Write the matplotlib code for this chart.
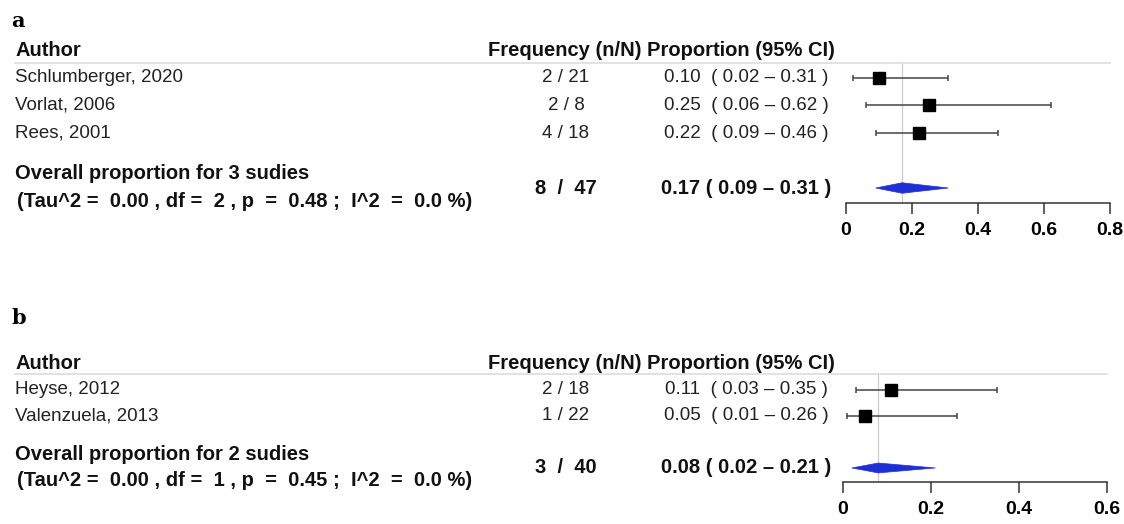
import matplotlib
matplotlib.use("Agg")
import matplotlib.pyplot as plt
from matplotlib.transforms import blended_transform_factory
import numpy as np

plt.rcParams['font.family'] = ['Liberation Sans', 'DejaVu Sans']

# ---- panel a data ----
a_authors = ["Schlumberger, 2020", "Vorlat, 2006", "Rees, 2001"]
a_events = [2, 2, 4]
a_totals = [21, 8, 18]
a_prop = [0.10, 0.25, 0.22]
a_lo = [0.02, 0.06, 0.09]
a_hi = [0.31, 0.62, 0.46]
a_overall = [8, 47, 0.17, 0.09, 0.31]
a_stats = ["0.00", "2", "0.48", "0.0"]
a_ticks = [0, 0.2, 0.4, 0.6, 0.8]
a_ticklabels = ["0", "0.2", "0.4", "0.6", "0.8"]

# ---- panel b data ----
b_authors = ["Heyse, 2012", "Valenzuela, 2013"]
b_events = [2, 1]
b_totals = [18, 22]
b_prop = [0.11, 0.05]
b_lo = [0.03, 0.01]
b_hi = [0.35, 0.26]
b_overall = [3, 40, 0.08, 0.02, 0.21]
b_stats = ["0.00", "1", "0.45", "0.0"]
b_ticks = [0, 0.2, 0.4, 0.6]
b_ticklabels = ["0", "0.2", "0.4", "0.6"]

W, H = 1124, 524
fig = plt.figure(figsize=(W / 100, H / 100), dpi=100)
fig.patch.set_facecolor("white")

# overlay axes in pixel units for the text columns
ov = fig.add_axes([0, 0, 1, 1])
ov.set_xlim(0, W)
ov.set_ylim(H, 0)
ov.axis("off")


def draw_panel(letter, letter_y, authors, events, totals, prop, lo, hi, overall, stats,
               ticks, ticklabels, px, ylims):
    x0, x1, ytop, ybot = px
    ax = fig.add_axes([x0 / W, 1 - ybot / H, (x1 - x0) / W, (ybot - ytop) / H])
    ax.set_facecolor("none")
    ax.set_xlim(ticks[0], ticks[-1])
    ax.set_ylim(*ylims)
    for s in ["top", "left", "right"]:
        ax.spines[s].set_visible(False)
    ax.spines["bottom"].set_linewidth(1.1)
    ax.spines["bottom"].set_color("#333333")
    ax.set_yticks([])
    ax.set_xticks(ticks)
    ax.set_xticklabels(ticklabels, fontweight="bold", fontsize=14)
    ax.tick_params(axis="x", direction="out", length=8, width=1.1, color="#333333", pad=6)

    n = len(authors)
    rows = np.arange(1, n + 1)
    ov_row = n + 2

    # reference line at pooled estimate
    ax.axvline(overall[2], color="#cccccc", lw=0.9, zorder=1)

    # study CIs and squares
    ax.errorbar(prop, rows, xerr=[np.array(prop) - np.array(lo), np.array(hi) - np.array(prop)],
                fmt="none", ecolor="#444444", elinewidth=1.1, capsize=2.5, capthick=1.1,
                zorder=2, clip_on=False)
    ax.plot(prop, rows, "s", color="black", ms=8.5, zorder=3, clip_on=False)

    # pooled diamond
    est, dlo, dhi = overall[2], overall[3], overall[4]
    h = 0.19
    ax.fill([dlo, est, dhi, est], [ov_row, ov_row - h, ov_row, ov_row + h],
            color="#1f2fd6", edgecolor="#1f2fd6", lw=0.5, zorder=3, clip_on=False)

    # text columns
    tr = blended_transform_factory(ov.transData, ax.transData)
    ov.text(11, letter_y, letter, fontfamily="DejaVu Serif", fontweight="bold",
            fontsize=15, va="center", ha="left")
    hdr = dict(transform=tr, fontweight="bold", fontsize=14.5, va="center", color="#111111")
    ax.text(15, 0, "Author", ha="left", **hdr)
    ax.text(565, 0, "Frequency (n/N)", ha="center", **hdr)
    ax.text(741, 0, "Proportion (95% CI)", ha="center", **hdr)
    ax.plot([15, x1], [ylims[1], ylims[1]], transform=tr, color="#dddddd", lw=1.2,
            clip_on=False)

    reg = dict(transform=tr, fontsize=13.5, va="center", color="#222222")
    for i in range(n):
        ax.text(15, rows[i], authors[i], ha="left", **reg)
        ax.text(566, rows[i], f"{events[i]} / {totals[i]}", ha="center", **reg)
        ax.text(746, rows[i], f"{prop[i]:.2f}  ( {lo[i]:.2f} \u2013 {hi[i]:.2f} )",
                ha="center", **reg)

    bold = dict(transform=tr, fontsize=14.5, fontweight="bold", va="center", color="#111111")
    ax.text(15, ov_row - 0.53, f"Overall proportion for {n} sudies", ha="left", **bold)
    ax.text(17, ov_row + 0.48,
            f"(Tau^2 =  {stats[0]} , df =  {stats[1]} , p  =  {stats[2]} ;  I^2  =  {stats[3]} %)",
            ha="left", **bold)
    ax.text(566, ov_row, f"{overall[0]}  /  {overall[1]}", ha="center", **bold)
    ax.text(746, ov_row, f"{est:.2f} ( {dlo:.2f} \u2013 {dhi:.2f} )", ha="center", **bold)
    return ax


draw_panel("a", 21, a_authors, a_events, a_totals, a_prop, a_lo, a_hi, a_overall, a_stats,
           a_ticks, a_ticklabels, (846, 1110, 63, 203), (5.545, 0.455))
draw_panel("b", 318, b_authors, b_events, b_totals, b_prop, b_lo, b_hi, b_overall, b_stats,
           b_ticks, b_ticklabels, (843, 1107, 374, 482), (4.54, 0.385))

fig.savefig("out.png", dpi=100, facecolor="white")
